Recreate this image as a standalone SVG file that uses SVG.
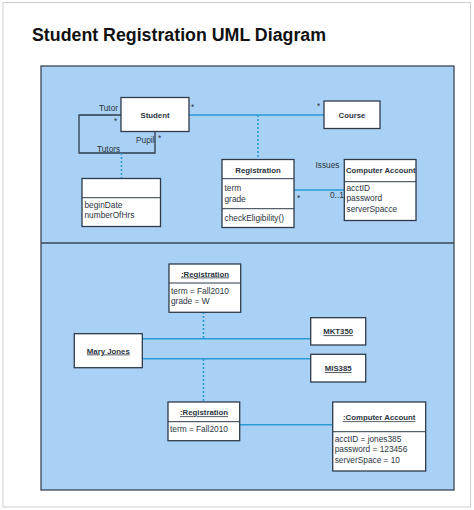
<svg xmlns="http://www.w3.org/2000/svg" width="474" height="510" viewBox="0 0 474 510">
<style>
.t{font-family:"Liberation Sans",Arial,sans-serif;font-size:8.3px;fill:#2b3440}
.b{font-family:"Liberation Sans",Arial,sans-serif;font-size:7.8px;font-weight:bold;fill:#2b3440}
.u{text-decoration:underline}
.box{fill:#fff;stroke:#2f3b4a;stroke-width:1.3}
.div{stroke:#2f3b4a;stroke-width:1}
.blue{stroke:#2a9ad8;stroke-width:1.6;fill:none}
.dot{stroke:#2a9ad8;stroke-width:1.6;stroke-dasharray:2 2;fill:none}
.dark{stroke:#2f3b4a;stroke-width:1.3;fill:none}
</style>
<rect x="0" y="0" width="474" height="510" fill="#fff"/>
<rect x="3" y="2.5" width="467.5" height="504.5" fill="#fff" stroke="#cfcfcf" stroke-width="1"/>
<text x="32" y="41" font-family="'Liberation Sans',Arial,sans-serif" font-size="18" font-weight="bold" fill="#111" textLength="294" lengthAdjust="spacingAndGlyphs">Student Registration UML Diagram</text>
<g id="panels">
<rect x="41" y="66" width="413" height="424" fill="#a9d1f5" stroke="#3a4655" stroke-width="1.3"/>
<line x1="41" y1="243" x2="454" y2="243" stroke="#3a4655" stroke-width="1.3"/>
</g>
<g id="connectors">
<polyline class="dark" points="121,115 79,115 79,153 155,153 155,132"/>
<line class="dot" x1="121.5" y1="153" x2="121.5" y2="178"/>
<line class="blue" x1="189" y1="115" x2="324" y2="115"/>
<line class="dot" x1="258" y1="115" x2="258" y2="159"/>
<line class="blue" x1="294" y1="190" x2="344" y2="190"/>
<line class="blue" x1="142" y1="338.7" x2="311" y2="338.7"/>
<line class="blue" x1="142" y1="358.7" x2="311" y2="358.7"/>
<line class="dot" x1="203.5" y1="312" x2="203.5" y2="338"/>
<line class="dot" x1="203.5" y1="359" x2="203.5" y2="402"/>
<line class="blue" x1="240" y1="424.7" x2="333" y2="424.7"/>
<text class="t" x="99" y="110.5">Tutor</text>
<text class="t" x="114" y="124">*</text>
<text class="t" x="136" y="143">Pupil</text>
<text class="t" x="158" y="141">*</text>
<text class="t" x="97" y="152">Tutors</text>
<text class="t" x="191" y="110">*</text>
<text class="t" x="317" y="109">*</text>
<text class="t" x="315.5" y="168">Issues</text>
<text class="t" x="297" y="201">*</text>
<text class="t" x="330" y="198">0..1</text>
</g>
<g id="student">
<rect class="box" x="121" y="97.5" width="68" height="34"/>
<text class="b" x="155" y="117.5" text-anchor="middle">Student</text>
</g>
<g id="course">
<rect class="box" x="324" y="101" width="56" height="27.5"/>
<text class="b" x="352" y="118" text-anchor="middle">Course</text>
</g>
<g id="tutors-class">
<rect class="box" x="82" y="178.5" width="78.5" height="48"/>
<line class="div" x1="82" y1="197.7" x2="160.5" y2="197.7"/>
<text class="t" x="84.5" y="208">beginDate</text>
<text class="t" x="84.5" y="217.5">numberOfHrs</text>
</g>
<g id="registration">
<rect class="box" x="222" y="159.5" width="72" height="68"/>
<line class="div" x1="222" y1="178.7" x2="294" y2="178.7"/>
<line class="div" x1="222" y1="208.7" x2="294" y2="208.7"/>
<text class="b" x="258" y="172.5" text-anchor="middle">Registration</text>
<text class="t" x="224.5" y="191">term</text>
<text class="t" x="224.5" y="201.5">grade</text>
<text class="t" x="224.5" y="221">checkEligibility()</text>
</g>
<g id="computer-account">
<rect class="box" x="344.3" y="159.5" width="71.7" height="61"/>
<line class="div" x1="344.3" y1="181.7" x2="416" y2="181.7"/>
<text class="b" x="346" y="173" textLength="69.5" lengthAdjust="spacingAndGlyphs">Computer Account</text>
<text class="t" x="346.5" y="190.5">acctID</text>
<text class="t" x="346.5" y="201">password</text>
<text class="t" x="346.5" y="211.5">serverSpacce</text>
</g>
<g id="reg-obj-1">
<rect class="box" x="169" y="264" width="71.7" height="48.3"/>
<line class="div" x1="169" y1="283" x2="240.7" y2="283"/>
<text class="b u" x="205" y="276.5" text-anchor="middle">:Registration</text>
<text class="t" x="171" y="293.5">term = Fall2010</text>
<text class="t" x="171" y="303.5">grade = W</text>
</g>
<g id="mary-jones">
<rect class="box" x="74.3" y="333.7" width="68" height="34"/>
<text class="b u" x="108.3" y="353.5" text-anchor="middle">Mary Jones</text>
</g>
<g id="mkt350">
<rect class="box" x="310.7" y="317.7" width="55" height="27.3"/>
<text class="b u" x="338.2" y="334.3" text-anchor="middle">MKT350</text>
</g>
<g id="mis385">
<rect class="box" x="310.7" y="354.3" width="55" height="27.7"/>
<text class="b u" x="338.2" y="371" text-anchor="middle">MIS385</text>
</g>
<g id="reg-obj-2">
<rect class="box" x="168" y="402" width="71.7" height="38.7"/>
<line class="div" x1="168" y1="421.7" x2="239.7" y2="421.7"/>
<text class="b u" x="204" y="415.3" text-anchor="middle">:Registration</text>
<text class="t" x="170" y="432">term = Fall2010</text>
</g>
<g id="account-obj">
<rect class="box" x="332.7" y="402" width="93" height="69"/>
<line class="div" x1="332.7" y1="431.7" x2="425.7" y2="431.7"/>
<text class="b u" x="379.2" y="420.3" text-anchor="middle">:Computer Account</text>
<text class="t" x="334.7" y="442">acctID = jones385</text>
<text class="t" x="334.7" y="452.3">password = 123456</text>
<text class="t" x="334.7" y="462.5">serverSpace = 10</text>
</g>
</svg>
